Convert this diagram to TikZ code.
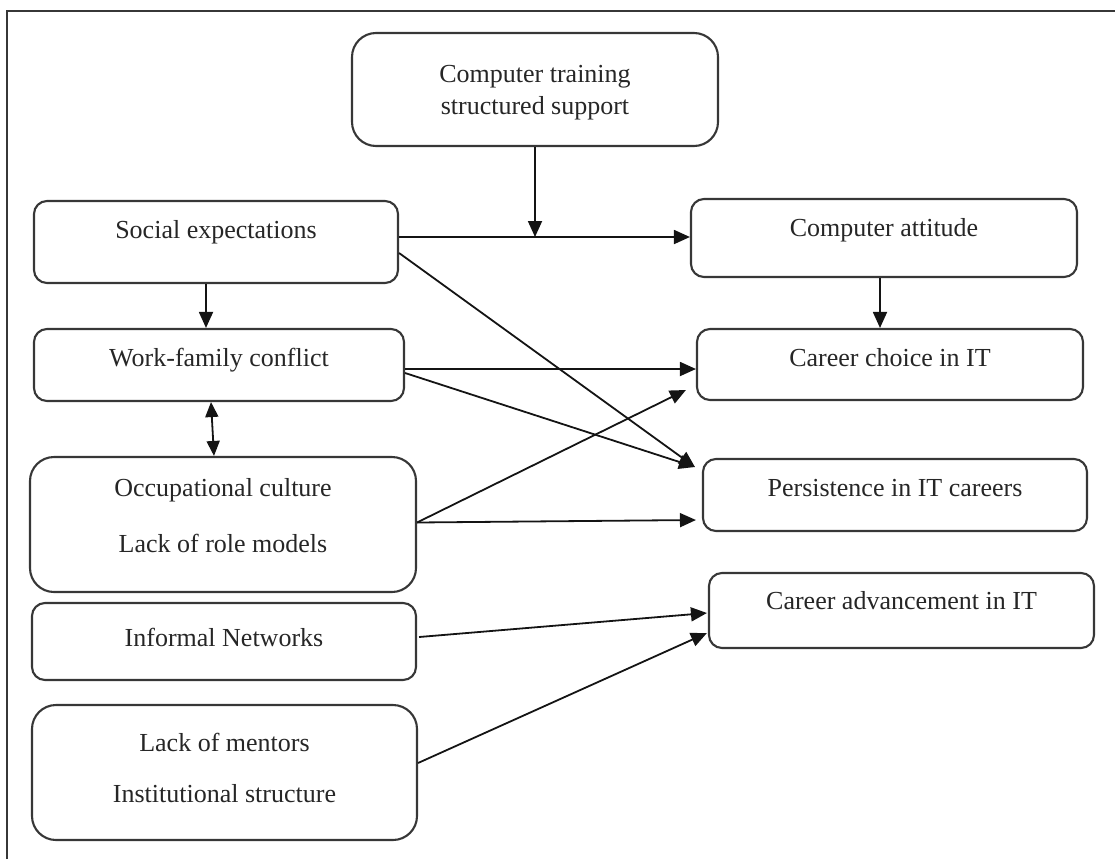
\documentclass[tikz,border=0pt]{standalone}
\usepackage{fontspec}
\setmainfont{Liberation Serif}
\usetikzlibrary{arrows.meta,calc}
\definecolor{boxline}{RGB}{55,55,55}
\definecolor{arrline}{RGB}{20,20,20}
\newcommand{\lift}[2]{\raisebox{#1}[\height][\depth]{#2}}
\tikzset{
factor/.style={draw=boxline,line width=2.1pt,rounded corners=13pt,inner sep=0pt,text=black!85,font=\fontsize{26}{32}\selectfont},
bigfactor/.style={factor,rounded corners=24pt,align=center},
link/.style={draw=arrline,line width=1.8pt,-{Triangle[length=16pt,width=14pt]}},
twolink/.style={link,{Triangle[length=15pt,width=13pt]}-{Triangle[length=15pt,width=13pt]}}
}

\begin{document}
\begin{tikzpicture}[x=1pt,y=-1pt]
\useasboundingbox (0,0) rectangle (1115,859);
% frame (cut at right and bottom)
\draw[boxline,line width=2.2pt] (7,859) -- (7,11) -- (1115,11);
% moderator
\node[bigfactor,minimum width=366pt,minimum height=113pt] (train) at (535,89.5) {\lift{-3pt}{Computer training}\\\lift{-3pt}{structured support}};
% left column
\node[factor,minimum width=364pt,text height=37pt,text depth=45pt] (social) at (216,242) {Social expectations};
\node[factor,minimum width=370pt,text height=37pt,text depth=35pt] (wf) at (219,365) {Work-family conflict};
\node[bigfactor,minimum width=386pt,minimum height=135pt] (occ) at (223,524.5) {\lift{9pt}{Occupational culture}\\[24pt]\lift{9pt}{Lack of role models}};
\node[factor,minimum width=384pt,text height=43pt,text depth=34pt] (informal) at (224,641.5) {Informal Networks};
\node[bigfactor,minimum width=385pt,minimum height=135pt] (mentors) at (224.5,772.5) {\lift{5pt}{Lack of mentors}\\[19pt]\lift{5pt}{Institutional structure}};
% right column
\node[factor,minimum width=386pt,text height=37pt,text depth=41pt] (attitude) at (884,238) {Computer attitude};
\node[factor,minimum width=386pt,text height=37pt,text depth=34pt] (choice) at (890,364.5) {Career choice in IT};
\node[factor,minimum width=384pt,text height=37pt,text depth=35pt] (persist) at (895,495) {Persistence in IT careers};
\node[factor,minimum width=385pt,text height=36pt,text depth=39pt] (adv) at (901.5,610.5) {Career advancement in IT};

% links
\coordinate (s1) at ($(social.east)+(0,-5)$);
\draw[link] (s1) -- (s1 -| attitude.west);
\draw[link] (train.south) -- (train.south |- s1);
\draw[link] ($(attitude.south)+(-4,0)$) -- ($(attitude.south |- choice.north)+(-4,0)$);
\draw[link] ($(social.south)+(-10,0)$) -- ($(social.south |- wf.north)+(-10,0)$);
\draw[twolink] ($(wf.south)+(-8,0)$) -- ($(occ.north)+(-9,0)$);
\coordinate (w1) at ($(wf.east)+(0,4)$);
\draw[link] (w1) -- (w1 -| choice.west);
\coordinate (p1) at ($(persist.west)+(-7,-28)$);
\draw[link] ($(wf.east)+(0,8)$) -- (p1);
\draw[link] ($(social.east)+(0,11)$) -- (p1);
\draw[link] ($(occ.east)+(0,-2)$) -- ($(choice.west)+(-10,25.5)$);
\draw[link] ($(occ.east)+(0,-2)$) -- ($(persist.west)+(-6,25)$);
\draw[link] ($(informal.east)+(2,-4.5)$) -- ($(adv.west)+(-1,2.5)$);
\draw[link] ($(mentors.east)+(0,-9.5)$) -- ($(adv.west)+(-1,22.5)$);
\end{tikzpicture}
\end{document}
